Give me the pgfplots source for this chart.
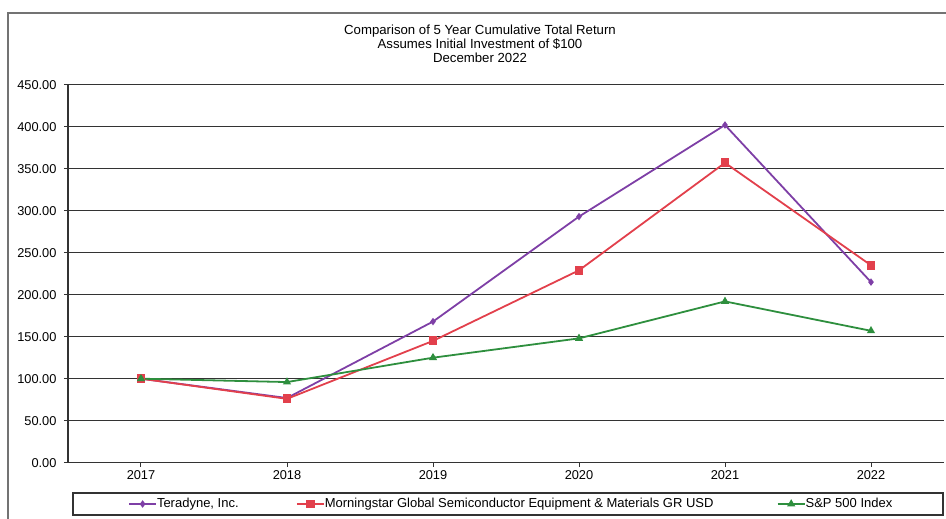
\documentclass[border=0pt]{standalone}
\usepackage{pgfplots}
\pgfplotsset{compat=1.18}
\usepackage{fontspec}
\setmainfont{Liberation Sans}
\definecolor{tpurple}{HTML}{7E3FA6}
\definecolor{mred}{HTML}{E2404C}
\definecolor{sgreen}{HTML}{2E8F3E}
\begin{document}
\begin{tikzpicture}[x=1pt,y=1pt]
\useasboundingbox (0,0) rectangle (946,519);
\draw[line width=2pt, color=gray!90!black] (8,-5) -- (8,506) -- (951,506);
\node[align=center, font=\fontsize{13.2}{14}\selectfont] at (480,475) {Comparison of 5 Year Cumulative Total Return\\Assumes Initial Investment of \$100\\December 2022};
\begin{axis}[
  at={(68pt,56.3pt)}, anchor=south west, scale only axis,
  width=876pt, height=378pt,
  xmin=-0.5, xmax=5.5, ymin=0, ymax=450,
  xtick={0,1,2,3,4,5}, xticklabels={2017,2018,2019,2020,2021,2022},
  ytick={0,50,...,450},
  yticklabel style={xshift=-4pt, /pgf/number format/.cd, fixed, fixed zerofill, precision=2, assume math mode=true},
  tick label style={font=\fontsize{12.8}{14}\selectfont},
  ymajorgrids, grid style={line width=1.5pt, color=black!80},
  axis lines=left, axis line style={-, line width=1.2pt, color=black!80},
  tick style={line width=1pt, color=black!80},
  tick align=outside, major tick length=4pt,
  legend columns=3,
  legend cell align=left,
  legend style={draw=none, fill=none, inner sep=0pt, at={(0.0685,-0.1093)}, anchor=west,
    nodes={inner sep=0pt}, /tikz/column sep=0pt,
    font=\fontsize{13}{14}\selectfont},
  legend image code/.code={\draw[mark repeat=2,mark phase=2,#1] plot coordinates {(0pt,0pt) (13.5pt,0pt) (27pt,0pt)};},
]
\addplot[color=tpurple, line width=1.8pt, mark=diamond*, mark size=2.3pt] coordinates {(0,100) (1,77) (2,168) (3,293) (4,402) (5,215)};
\addplot[color=mred, line width=1.8pt, mark=square*, mark size=3.5pt] coordinates {(0,100) (1,76) (2,145) (3,229) (4,357) (5,235)};
\addplot[color=sgreen, line width=1.8pt, mark=triangle*, mark size=3pt] coordinates {(0,100) (1,96) (2,125) (3,148) (4,192) (5,157)};
\legend{\makebox[139pt][l]{Teradyne, Inc.}, \makebox[452pt][l]{Morningstar Global Semiconductor Equipment \& Materials GR USD}, S\&P 500 Index}
\end{axis}
\draw[line width=1.2pt, color=black!80] (73,4) rectangle (943,26);
\end{tikzpicture}
\end{document}
